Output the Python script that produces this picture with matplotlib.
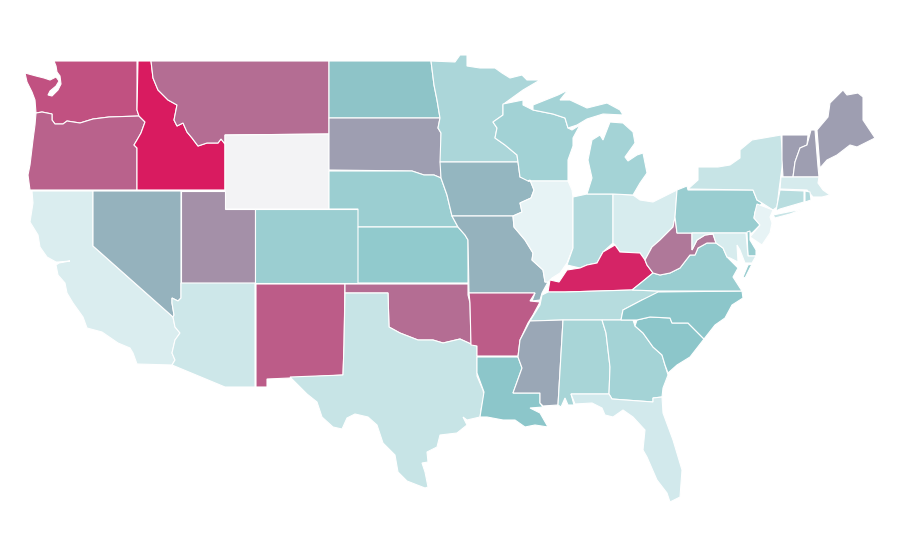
import matplotlib
matplotlib.use("Agg")
import matplotlib.pyplot as plt
from matplotlib.colors import LinearSegmentedColormap

# rough state outlines, map units = image pixels
wa = [(54,61),(137,61),(137,110),(139,116),(109,117),(93,119),(80,123),(67,121),(63,124),(55,124),(52,120),(52,114),(42,112),(36,113),
      (35,100),(32,92),(27,82),(25,73),(36,76),(44,78),(50,80),(56,77),(59,81),(56,86),(50,91),(48,95),(52,96),(58,90),(61,84),(60,76),(57,72),(56,66)]
oregon = [(36,113),(42,112),(52,114),(52,120),(55,124),(63,124),(67,121),(80,123),(93,119),(109,117),(139,116),(145,122),(141,133),
          (137,140),(134,145),(137,148),(137,190),(30,190),(28,175),(30,165),(33,140),(35,125)]
idaho = [(138,61),(151,61),(153,78),(158,90),(168,100),(177,105),(174,120),(177,126),(183,123),(187,132),(192,138),(198,146),(207,143),
         (218,143),(221,139),(225,144),(225,190),(137,190),(137,148),(134,145),(137,140),(141,133),(145,122),(139,116),(137,110)]
montana = [(151,61),(329,61),(329,134),(225,135),(225,144),(221,139),(218,143),(207,143),(198,146),(192,138),(187,132),(183,123),
           (177,126),(174,120),(177,105),(168,100),(158,90),(153,78)]
wyoming = [(225,135),(329,134),(329,209),(225,209)]
california = [(32,191),(93,191),(93,246),(173,317),(175,327),(180,333),(175,340),(172,353),(175,360),(172,365),(137,364),(133,353),
              (130,348),(118,343),(102,332),(87,328),(83,317),(73,303),(67,293),(65,283),(58,275),(56,265),(59,263),(70,261),(58,262),
              (56,262),(47,257),(40,247),(38,235),(30,222),(33,203)]
nevada = [(93,191),(181,191),(181,298),(178,301),(172,298),(172,303),(174,315),(173,317),(93,246)]
utah = [(181,191),(225,191),(225,209),(255,209),(255,283),(181,283)]
colorado = [(255,209),(358,209),(358,283),(255,283)]
arizona = [(181,283),(255,283),(255,387),(225,387),(172,365),(175,360),(172,353),(175,340),(180,333),(175,327),(173,317),(174,315),
           (172,303),(172,298),(178,301),(181,298)]
new_mexico = [(256,284),(345,284),(344,345),(343,375),(290,378),(267,379),(267,387),(256,387)]
n_dakota = [(329,61),(431,61),(434,85),(437,100),(440,118),(329,118)]
s_dakota = [(329,118),(440,118),(438,128),(441,133),(441,178),(434,175),(424,175),(412,171),(329,170)]
nebraska = [(329,171),(412,171),(424,175),(434,175),(441,178),(447,195),(452,216),(458,227),(358,227),(358,209),(329,209)]
kansas = [(358,227),(458,227),(465,235),(468,240),(468,283),(358,283)]
oklahoma = [(345,284),(468,284),(468,295),(470,303),(471,344),(460,339),(443,343),(433,340),(418,340),(400,333),(389,327),(388,293),(345,293)]
texas = [(345,293),(388,293),(389,327),(400,333),(418,340),(433,340),(443,343),(460,339),(471,344),(477,346),(477,376),(483,390),(484,395),
         (481,410),(480,417),(467,420),(463,417),(467,425),(457,433),(440,435),(437,447),(427,452),(428,462),(422,463),(425,472),(428,487),
         (425,488),(407,481),(398,472),(395,455),(383,443),(377,425),(368,417),(355,414),(347,418),(342,429),(333,427),(322,417),(317,402),
         (307,394),(290,377),(343,375),(344,345)]
minnesota = [(431,61),(455,62),(460,55),(467,55),(467,66),(480,68),(495,68),(502,73),(510,78),(522,75),(527,80),(540,80),(523,90),(505,103),
             (503,105),(503,115),(493,122),(497,128),(495,138),(505,145),(517,155),(518,162),(440,162),(441,133),(438,128),(440,118),(437,100),(434,85)]
iowa = [(440,162),(518,162),(520,177),(530,180),(534,190),(531,198),(520,203),(522,212),(513,216),(452,216),(447,195),(441,178)]
missouri = [(452,216),(513,216),(514,227),(525,240),(533,253),(532,260),(543,270),(545,282),(548,282),(542,293),(540,300),(532,301),(535,293),
            (469,293),(468,240),(465,235),(458,227)]
arkansas = [(469,293),(535,293),(530,301),(540,302),(533,315),(528,323),(520,340),(518,356),(477,356),(477,346),(471,345),(470,303)]
louisiana = [(477,357),(518,357),(522,368),(513,393),(540,393),(540,403),(543,407),(530,408),(540,413),(548,427),(535,425),(525,427),(515,420),
             (503,420),(487,417),(480,417),(484,392),(477,373)]
wisconsin = [(503,104),(523,100),(523,105),(533,110),(553,114),(565,118),(568,128),(572,130),(580,125),(573,138),(573,146),(568,160),(568,181),
             (528,181),(520,177),(518,162),(517,155),(505,145),(495,138),(497,128),(493,122),(503,115)]
illinois = [(528,181),(568,181),(572,190),(573,197),(573,248),(567,263),(560,273),(552,278),(548,282),(545,282),(543,270),(532,260),(533,253),
            (525,240),(514,227),(513,216),(522,212),(520,203),(531,198),(534,190),(530,180)]
indiana = [(573,197),(587,194),(613,194),(613,243),(603,252),(597,263),(587,265),(580,268),(567,265),(573,248)]
ohio = [(613,194),(633,195),(640,200),(653,202),(677,190),(675,217),(673,227),(660,240),(652,247),(645,260),(640,253),(620,252),(615,245),(613,243)]
mi_lower = [(587,194),(592,178),(588,160),(592,140),(600,135),(603,140),(610,122),(623,123),(633,132),(635,143),(625,157),(628,161),(637,155),
            (643,153),(647,173),(640,183),(633,195),(613,194)]
mi_upper = [(533,105),(558,95),(568,90),(560,100),(570,100),(587,108),(607,103),(620,110),(623,115),(603,114),(587,119),(577,125),(568,128),
            (565,118),(553,114),(533,110)]
kentucky = [(548,292),(550,280),(559,282),(567,270),(580,268),(587,265),(597,263),(603,252),(615,245),(620,252),(640,253),(645,260),(647,265),
            (653,273),(642,282),(632,290),(565,292)]
tennessee = [(548,292),(565,292),(632,290),(658,291),(658,295),(642,300),(623,310),(621,320),(563,320),(530,321),(540,305),(542,295)]
mississippi = [(530,321),(563,320),(558,405),(543,406),(540,403),(540,393),(513,393),(522,368),(518,357),(520,340)]
alabama = [(563,320),(602,320),(606,333),(610,367),(609,394),(571,394),(574,405),(568,405),(565,398),(561,407),(558,405)]
georgia = [(602,320),(633,320),(635,326),(643,333),(653,347),(662,355),(665,365),(668,375),(663,388),(662,397),(653,398),(653,402),(612,399),
           (609,394),(610,367),(606,333)]
florida = [(571,394),(609,394),(612,399),(653,402),(653,398),(662,397),(663,413),(673,440),(682,470),(680,497),(670,502),(667,493),(657,480),
           (647,457),(643,450),(645,430),(633,417),(623,410),(613,417),(605,415),(602,408),(592,403),(575,404)]
s_carolina = [(635,326),(637,320),(650,317),(670,318),(672,323),(688,323),(704,339),(690,357),(677,365),(668,373),(665,365),(662,355),(653,347),(643,333)]
n_carolina = [(621,320),(623,310),(642,300),(658,292),(742,291),(743,298),(732,305),(725,318),(715,325),(704,339),(688,323),(672,323),(670,318),(650,317),(637,320)]
virginia = [(632,290),(642,282),(653,273),(660,275),(670,273),(680,268),(690,255),(695,255),(698,248),(707,243),(716,243),(723,248),(727,257),(738,268),(733,277),(742,291),(658,291)]
va_shore = [(752,264),(745,278),(743,277),(748,265)]
w_virginia = [(675,217),(677,233),(692,233),(692,250),(697,240),(705,235),(713,234),(716,243),(707,243),(698,248),(695,255),(690,255),(680,268),(670,273),(660,275),
              (653,273),(647,265),(645,260),(652,247),(660,240),(673,227)]
pennsylvania = [(677,190),(687,186),(688,190),(753,190),(757,200),(762,203),(755,212),(754,218),(760,225),(752,233),(677,233),(675,217)]
new_york = [(688,189),(698,180),(698,167),(718,167),(730,165),(740,158),(740,150),(752,140),(781,135),(783,160),(779,190),(777,207),(773,210),(762,203),(757,200),(753,190)]
long_island = [(773,215),(803,209),(790,214),(775,218)]
vermont = [(782,135),(808,135),(807,145),(800,148),(795,162),(793,177),(783,177),(782,160)]
new_hamp = [(793,177),(795,162),(800,148),(807,145),(811,130),(815,130),(818,167),(819,177)]
maine = [(817,130),(828,117),(830,103),(840,93),(843,90),(847,95),(858,93),(863,97),(863,120),(875,138),(857,147),(850,145),(837,155),(827,160),(820,168)]
massachusetts = [(781,177),(819,177),(818,183),(823,190),(830,195),(822,197),(813,197),(807,190),(780,189)]
connecticut = [(780,190),(804,191),(804,202),(780,209),(776,211)]
rhode_island = [(805,191),(810,192),(811,200),(805,202)]
new_jersey = [(757,204),(773,210),(770,217),(772,223),(770,233),(762,245),(750,237),(760,225),(754,218),(755,212)]
delaware = [(747,232),(750,231),(750,240),(756,250),(756,256),(748,256)]
maryland = [(692,233),(746,233),(748,256),(756,256),(752,263),(745,263),(740,250),(737,245),(738,262),(730,258),(727,257),(723,248),(716,243),(713,234),(705,235),(697,240),(692,250)]

# (outline parts, value) - no scale in the picture, values are read off the colours, wyoming has none
states = [
    ([wa], 84), ([oregon], 79), ([idaho], 100), ([montana], 76), ([wyoming], None),
    ([california], 8), ([nevada], 56), ([utah], 66), ([colorado], 42), ([arizona], 15),
    ([new_mexico], 81), ([n_dakota], 51), ([s_dakota], 62), ([nebraska], 42), ([kansas], 47),
    ([oklahoma], 76), ([texas], 18), ([minnesota], 33), ([iowa], 55), ([missouri], 56),
    ([arkansas], 81), ([louisiana], 50), ([wisconsin], 38), ([illinois], 1), ([indiana], 30),
    ([ohio], 9), ([mi_lower, mi_upper], 37), ([kentucky], 97), ([tennessee], 27), ([mississippi], 59),
    ([alabama], 35), ([georgia], 37), ([florida], 12), ([s_carolina], 50), ([n_carolina], 50),
    ([virginia, va_shore], 43), ([w_virginia], 73), ([pennsylvania], 43), ([new_york, long_island], 18),
    ([vermont], 62), ([new_hamp], 62), ([maine], 62), ([massachusetts], 10), ([connecticut], 26),
    ([rhode_island], 30), ([new_jersey], 1), ([delaware], 43), ([maryland], 9),
]

cmap = LinearSegmentedColormap.from_list("states", ["#e8f4f6", "#8cc7ca", "#d91b60"])
no_data_color = "#f3f3f5"

fig = plt.figure(figsize=(9, 5.6), dpi=100)
ax = fig.add_axes([0, 0, 1, 1])

for parts, value in states:
    color = no_data_color if value is None else cmap(value / 100)
    for part in parts:
        xs, ys = zip(*part)
        ax.fill(xs, ys, facecolor=color, edgecolor="white", linewidth=0.8)

ax.set_xlim(0, 900)
ax.set_ylim(560, 0)
ax.set_axis_off()

fig.savefig("out.png", dpi=100, facecolor="white")
